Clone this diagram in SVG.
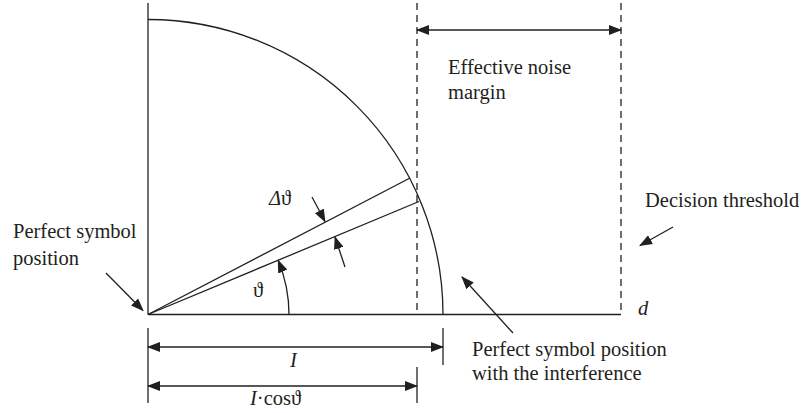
<svg xmlns="http://www.w3.org/2000/svg" width="805" height="413" viewBox="0 0 805 413">
  <style>
    .ln { stroke: #231f20; stroke-width: 1.3; fill: none; }
    .dash { stroke: #231f20; stroke-width: 1.3; fill: none; stroke-dasharray: 7 5; }
    .t { font-family: "Liberation Serif", "Times New Roman", serif; font-size: 20.5px; fill: #231f20; }
    .it { font-style: italic; }
  </style>
  <defs>
    <marker id="ah" markerUnits="userSpaceOnUse" markerWidth="13" markerHeight="10" refX="12" refY="5" orient="auto-start-reverse">
      <path d="M0,0 L13,5 L0,10 z" fill="#231f20"/>
    </marker>
  </defs>
  <rect width="805" height="413" fill="#ffffff"/>

  <g id="axes">
    <line class="ln" x1="148" y1="3" x2="148" y2="314.5"/>
    <line class="ln" x1="148" y1="314.5" x2="621" y2="314.5"/>
  </g>

  <g id="circle-arc">
    <path class="ln" d="M148,19.5 A295,295 0 0 1 443,314.5"/>
  </g>

  <g id="thresholds">
    <line class="dash" x1="417" y1="3" x2="417" y2="314.5"/>
    <line class="dash" x1="621" y1="3" x2="621" y2="314.5"/>
  </g>

  <g id="rays">
    <line class="ln" x1="148" y1="314.5" x2="410" y2="178"/>
    <line class="ln" x1="148" y1="314.5" x2="419" y2="201.5"/>
  </g>

  <g id="connectors">
    <line class="ln" x1="417" y1="30" x2="621" y2="30" marker-start="url(#ah)" marker-end="url(#ah)"/>
    <line class="ln" x1="312" y1="197" x2="325" y2="221.5" marker-end="url(#ah)"/>
    <line class="ln" x1="345" y1="267" x2="335" y2="237" marker-end="url(#ah)"/>
    <path class="ln" d="M289,314.5 A141,141 0 0 0 278.2,260.5" marker-end="url(#ah)"/>
    <line class="ln" x1="106" y1="273" x2="143" y2="310.5" marker-end="url(#ah)"/>
    <line class="ln" x1="673" y1="227" x2="640" y2="245.5" marker-end="url(#ah)"/>
    <line class="ln" x1="513" y1="333" x2="462" y2="277" marker-end="url(#ah)"/>
    <line class="ln" x1="148" y1="328" x2="148" y2="403"/>
    <line class="ln" x1="443" y1="328" x2="443" y2="365"/>
    <line class="ln" x1="417" y1="367" x2="417" y2="403"/>
    <line class="ln" x1="148" y1="347" x2="443" y2="347" marker-start="url(#ah)" marker-end="url(#ah)"/>
    <line class="ln" x1="148" y1="386" x2="417" y2="386" marker-start="url(#ah)" marker-end="url(#ah)"/>
  </g>

  <g id="label-noise-margin">
    <text class="t" x="448" y="74">Effective noise</text>
    <text class="t" x="448" y="99">margin</text>
  </g>
  <g id="label-decision-threshold">
    <text class="t" x="645" y="207">Decision threshold</text>
  </g>
  <g id="label-perfect-symbol">
    <text class="t" x="13" y="238">Perfect symbol</text>
    <text class="t" x="13" y="265">position</text>
  </g>
  <g id="label-interference">
    <text class="t" x="472" y="356">Perfect symbol position</text>
    <text class="t" x="472" y="380">with the interference</text>
  </g>
  <g id="label-delta-theta">
    <text class="t" x="269" y="205"><tspan class="it">Δ</tspan>ϑ</text>
  </g>
  <g id="label-theta">
    <text class="t" x="253" y="297">ϑ</text>
  </g>
  <g id="label-d">
    <text class="t it" x="638" y="315">d</text>
  </g>
  <g id="label-I">
    <text class="t it" x="290" y="367">I</text>
  </g>
  <g id="label-Icos">
    <text class="t" x="250" y="405"><tspan class="it">I</tspan>·cosϑ</text>
  </g>
</svg>
